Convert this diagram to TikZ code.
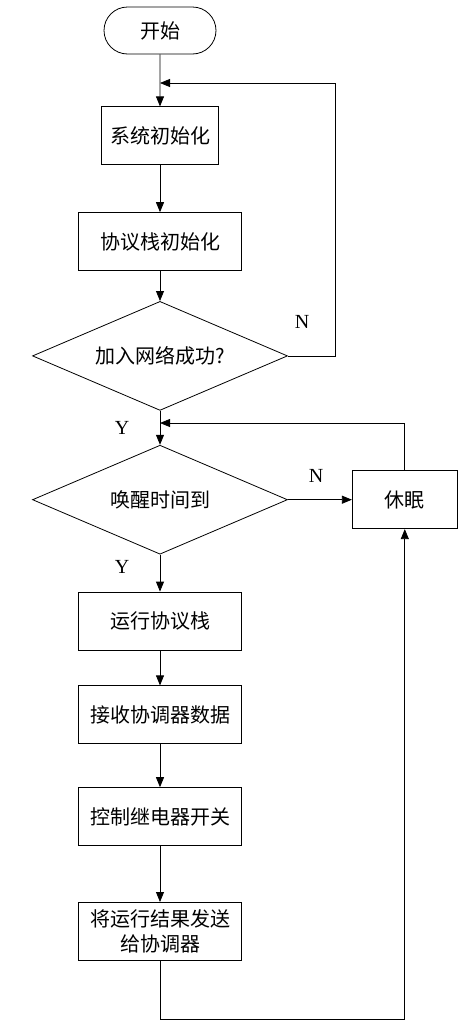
\documentclass[tikz,border=0pt]{standalone}
\usepackage{fontspec}
\setmainfont{Liberation Serif}
\newfontfamily\cjk{Noto Sans CJK SC}
\usetikzlibrary{positioning}
\usetikzlibrary{shapes.geometric}
\usetikzlibrary{shapes.misc}
\usetikzlibrary{arrows.meta}

\begin{document}
\begin{tikzpicture}
		[x=1pt, y=1pt,
		box/.style={draw, line width=0.8pt, minimum width=163pt, minimum height=58pt, inner sep=2pt, align=center, font=\cjk\fontsize{20}{25}\selectfont},
		startstop/.style={box, rounded rectangle, minimum width=116pt, minimum height=47pt},
		decision/.style={box, diamond, aspect=2.34, minimum width=255pt, minimum height=109pt, inner sep=0pt},
		yn/.style={font=\fontsize{20}{20}\selectfont},
		line/.style={draw, line width=0.8pt},
		arrow/.style={line, -{Triangle[length=10pt, width=8pt]}}]
		\useasboundingbox (0,0) rectangle (471,-1020);

		\node[startstop] (start) at (160,-30.5) {开始};
		\node[box, minimum width=117pt, below=52pt of start] (sysinit) {系统初始化};
		\node[box, below=47pt of sysinit] (stackinit) {协议栈初始化};
		\node[decision, below=30pt of stackinit] (joined) {加入网络成功?};
		\node[decision, below=34pt of joined] (wakeup) {唤醒时间到};
		\node[box, below=37pt of wakeup] (runstack) {运行协议栈};
		\node[box, below=35pt of runstack] (recv) {接收协调器数据};
		\node[box, below=43pt of recv] (relay) {控制继电器开关};
		\node[box, below=56pt of relay] (report) {将运行结果发送\\给协调器};
		\node[box, minimum width=105pt, right=64pt of wakeup] (sleep) {休眠};

		\coordinate (join1) at (160,-83);
		\coordinate (join2) at (160,-423);

		\draw[arrow] (start) to (sysinit);
		\draw[arrow] (sysinit) to (stackinit);
		\draw[arrow] (stackinit) to (joined);
		\draw[arrow] (joined) to (wakeup);
		\draw[arrow] (wakeup) to (runstack);
		\draw[arrow] (runstack) to (recv);
		\draw[arrow] (recv) to (relay);
		\draw[arrow] (relay) to (report);
		\draw[arrow] (wakeup.east) to (sleep.west);

		\draw[arrow] (joined.east) -- ++(47,0) |- (join1);
		\draw[arrow] (sleep.north) |- (join2);
		\draw[arrow] (report.south) -- ++(0,-59) -| (sleep.south);

		\node[yn] (n1) at (302,-322) {N};
		\node[yn] (y1) at (122,-428) {Y};
		\node[yn] (n2) at (316,-476) {N};
		\node[yn] (y2) at (122,-567) {Y};
	\end{tikzpicture}
\end{document}
